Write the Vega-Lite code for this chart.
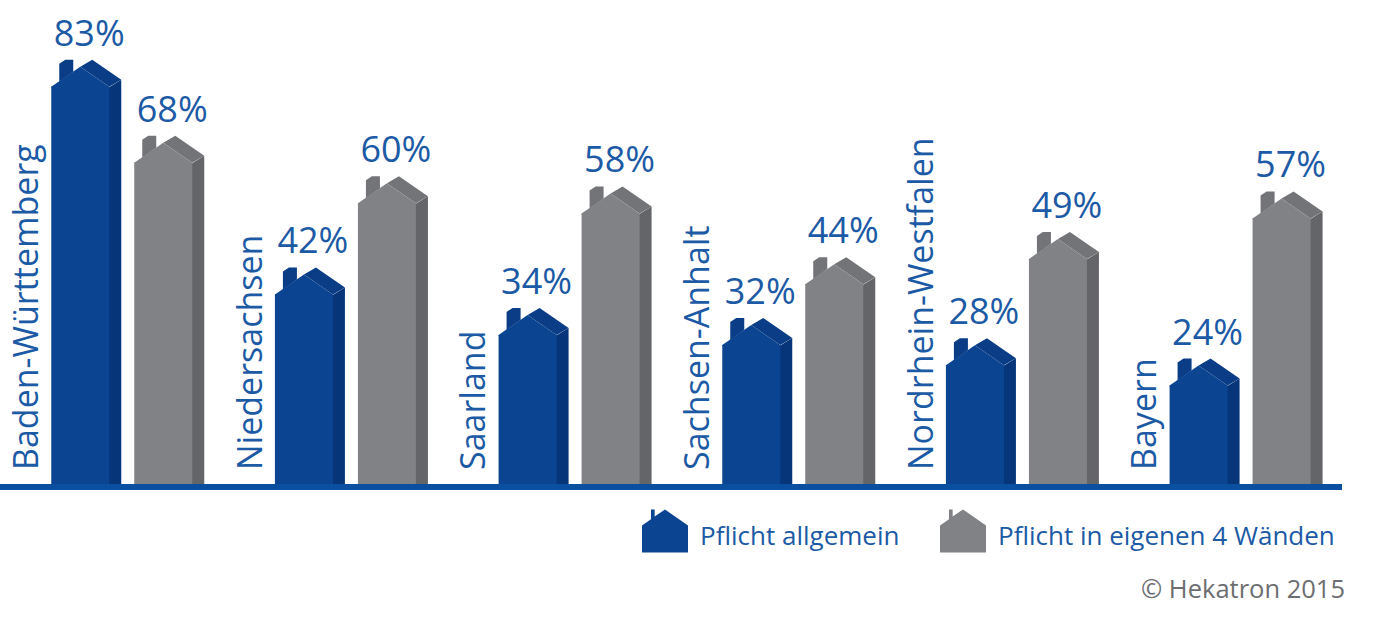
{
  "$schema": "https://vega.github.io/schema/vega-lite/v6.json",
  "width": 1342,
  "height": 487,
  "autosize": {"type": "none"},
  "padding": {"left": 0, "top": 0, "right": 43, "bottom": 132},
  "background": "white",
  "config": {"view": {"stroke": null}, "font": "Open Sans"},
  "title": {
    "text": "© Hekatron 2015",
    "orient": "bottom",
    "anchor": "end",
    "baseline": "alphabetic",
    "offset": 45,
    "fontSize": 25.5,
    "fontWeight": "normal",
    "font": "Open Sans",
    "color": "#6d6e71"
  },
  "data": {
    "values": [
      {"state": "Baden-Württemberg", "series": "Pflicht allgemein", "value": 0.83},
      {"state": "Baden-Württemberg", "series": "Pflicht in eigenen 4 Wänden", "value": 0.68},
      {"state": "Niedersachsen", "series": "Pflicht allgemein", "value": 0.42},
      {"state": "Niedersachsen", "series": "Pflicht in eigenen 4 Wänden", "value": 0.60},
      {"state": "Saarland", "series": "Pflicht allgemein", "value": 0.34},
      {"state": "Saarland", "series": "Pflicht in eigenen 4 Wänden", "value": 0.58},
      {"state": "Sachsen-Anhalt", "series": "Pflicht allgemein", "value": 0.32},
      {"state": "Sachsen-Anhalt", "series": "Pflicht in eigenen 4 Wänden", "value": 0.44},
      {"state": "Nordrhein-Westfalen", "series": "Pflicht allgemein", "value": 0.28},
      {"state": "Nordrhein-Westfalen", "series": "Pflicht in eigenen 4 Wänden", "value": 0.49},
      {"state": "Bayern", "series": "Pflicht allgemein", "value": 0.24},
      {"state": "Bayern", "series": "Pflicht in eigenen 4 Wänden", "value": 0.57}
    ]
  },
  "layer": [
    {
      "mark": {"type": "point", "shape": "M28,21L41,13L41,700L28,700Z", "size": 4, "filled": true, "opacity": 1, "strokeWidth": 0, "clip": true},
      "encoding": {
        "x": {"field": "state", "type": "nominal", "sort": null, "scale": {"paddingInner": 0, "paddingOuter": 0}, "axis": null},
        "xOffset": {"field": "series", "type": "nominal", "sort": null, "scale": {"paddingInner": 0.3012, "paddingOuter": 0.498, "align": 0.62}},
        "y": {"field": "value", "type": "quantitative", "scale": {"domain": [0, 0.962], "nice": false}, "axis": null},
        "color": {"field": "series", "type": "nominal", "scale": {"domain": ["Pflicht allgemein", "Pflicht in eigenen 4 Wänden"], "range": ["#063579", "#646568"]}, "legend": null}
      }
    },
    {
      "mark": {"type": "point", "shape": "M0,0L12,-7L41,13L29,20Z M-21,15L-21,-3L-15,-7L-7,-7L-7,5Z", "size": 4, "filled": true, "opacity": 1, "strokeWidth": 0},
      "encoding": {
        "x": {"field": "state", "type": "nominal", "sort": null},
        "xOffset": {"field": "series", "type": "nominal", "sort": null},
        "y": {"field": "value", "type": "quantitative"},
        "color": {"field": "series", "type": "nominal", "scale": {"domain": ["Pflicht allgemein", "Pflicht in eigenen 4 Wänden"], "range": ["#0a3d86", "#737477"]}, "legend": null}
      }
    },
    {
      "mark": {"type": "bar", "yOffset": 20},
      "encoding": {
        "x": {"field": "state", "type": "nominal", "sort": null},
        "xOffset": {"field": "series", "type": "nominal", "sort": null},
        "y": {"field": "value", "type": "quantitative"},
        "y2": {"datum": 0},
        "color": {
          "field": "series",
          "type": "nominal",
          "scale": {"domain": ["Pflicht allgemein", "Pflicht in eigenen 4 Wänden"], "range": ["#0b4592", "#808285"]},
          "legend": {
            "title": null,
            "orient": "none",
            "direction": "horizontal",
            "legendX": 642,
            "legendY": 514,
            "padding": 0,
            "symbolType": "M-1,0.655L-1,-0.52L-0.61,-0.79L-0.61,-1.215L-0.45,-1.215L-0.45,-0.916L0,-1.215L1,-0.52L1,0.655Z",
            "symbolSize": 2116,
            "symbolStrokeWidth": 0,
            "symbolOpacity": 1,
            "labelFont": "Open Sans",
            "labelFontSize": 26,
            "labelColor": "#1c5aa5",
            "labelOffset": 12,
            "labelLimit": 0,
            "columnPadding": 40
          }
        }
      }
    },
    {
      "mark": {"type": "point", "shape": "M-29,21L-29,20L0,0L29,20L29,21Z", "size": 4, "filled": true, "opacity": 1, "strokeWidth": 0},
      "encoding": {
        "x": {"field": "state", "type": "nominal", "sort": null},
        "xOffset": {"field": "series", "type": "nominal", "sort": null},
        "y": {"field": "value", "type": "quantitative"},
        "color": {"field": "series", "type": "nominal", "scale": {"domain": ["Pflicht allgemein", "Pflicht in eigenen 4 Wänden"], "range": ["#0b4592", "#808285"]}, "legend": null}
      }
    },
    {
      "mark": {"type": "text", "fontSize": 36, "color": "#1c5aa5", "align": "center", "baseline": "alphabetic", "dx": 9, "dy": -21},
      "encoding": {
        "x": {"field": "state", "type": "nominal", "sort": null},
        "xOffset": {"field": "series", "type": "nominal", "sort": null},
        "y": {"field": "value", "type": "quantitative"},
        "text": {"field": "value", "type": "quantitative", "format": ".0%"}
      }
    },
    {
      "transform": [{"filter": "datum.series === 'Pflicht allgemein'"}],
      "mark": {"type": "text", "fontSize": 34, "color": "#1c5aa5", "angle": 270, "align": "left", "baseline": "alphabetic", "xOffset": 38, "yOffset": -17},
      "encoding": {
        "x": {"field": "state", "type": "nominal", "sort": null, "bandPosition": 0},
        "y": {"datum": 0},
        "text": {"field": "state"}
      }
    },
    {
      "mark": {"type": "rule", "color": "#0b4fa0", "strokeWidth": 6},
      "encoding": {"y": {"datum": 0}}
    }
  ],
  "resolve": {"scale": {"color": "independent"}, "legend": {"color": "independent"}}
}
